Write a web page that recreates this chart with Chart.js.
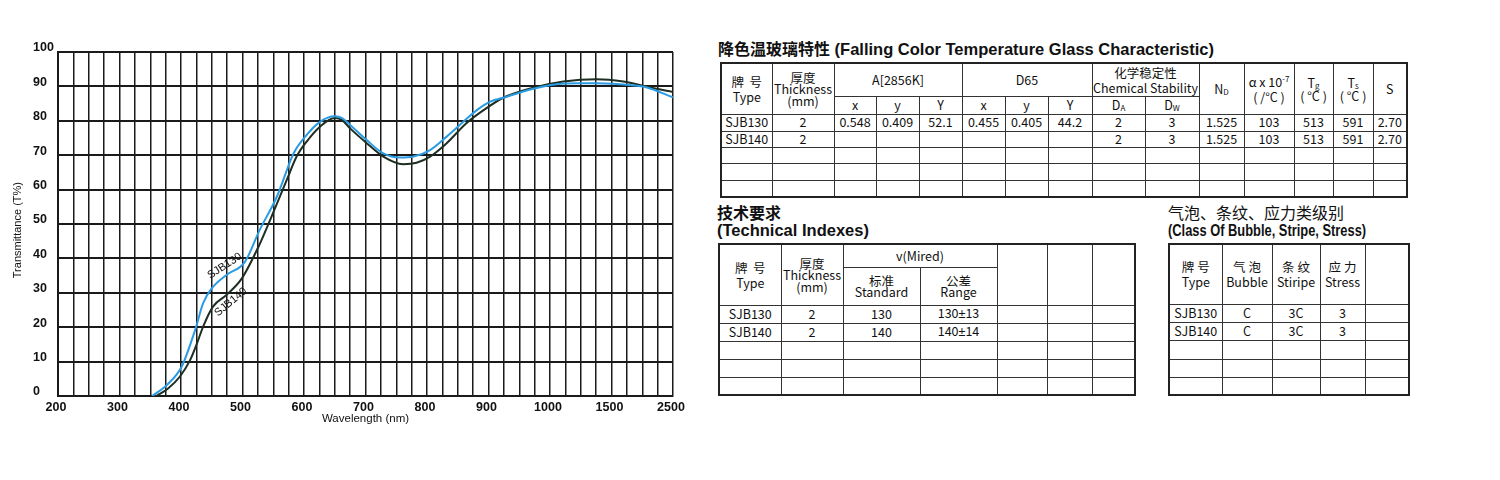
<!DOCTYPE html>
<html>
<head>
<meta charset="utf-8">
<script src="https://cdn.jsdelivr.net/npm/chart.js@4/dist/chart.umd.min.js"></script>
<style>
  html, body { margin:0; padding:0; background:#fff; }
  body { width:1500px; height:480px; position:relative; overflow:hidden; }
  #chartBox { position:absolute; left:0; top:0; width:700px; height:440px; }
  .ttl { position:absolute; font-family:"Liberation Sans", Arial, sans-serif; font-weight:bold; color:#111; white-space:nowrap; }
  .ttl .cn { font-family:"Noto Sans CJK SC", sans-serif; font-weight:bold; font-size:16px; }
  .tbl { position:absolute; border-collapse:collapse; table-layout:fixed; font-family:"Noto Sans CJK SC","Noto Sans",sans-serif; font-size:12.5px; color:#111; border:2px solid #222; }
  .tbl td { border:1px solid #333; padding:0; text-align:center; vertical-align:middle; line-height:1; overflow:hidden; white-space:nowrap; }
  .tbl .ml { line-height:11.5px; }
  .tbl .ml2 { line-height:15px; }
  .tbl .ml3 { line-height:13px; }
  .tbl sub { font-size:8px; vertical-align:-1px; line-height:0; }
  .tbl sup { font-size:8px; vertical-align:5px; line-height:0; }
  .pm { font-family:"Liberation Sans", Arial, sans-serif; }
</style>
</head>
<body>
<div id="chartBox"><canvas id="c" width="700" height="440"></canvas></div>

<div class="ttl" style="left:718px; top:39px; line-height:18px;"><span class="cn">降色温玻璃特性</span><span style="font-size:16.5px;">&nbsp;(Falling Color Temperature Glass Characteristic)</span></div>
<table class="tbl" id="t1" style="left:720px; top:62px; width:688px;">
  <colgroup><col style="width:51px"><col style="width:62px"><col style="width:42px"><col style="width:43px"><col style="width:43px"><col style="width:43px"><col style="width:43px"><col style="width:44px"><col style="width:53px"><col style="width:54px"><col style="width:45px"><col style="width:50px"><col style="width:39px"><col style="width:40px"><col style="width:34px"></colgroup>
  <tr style="height:33px">
    <td rowspan="2"><div class="ml2">牌&nbsp;&nbsp;号<br>Type</div></td>
    <td rowspan="2"><div class="ml">厚度<br>Thickness<br>(mm)</div></td>
    <td colspan="3">A[2856K]</td>
    <td colspan="3">D65</td>
    <td colspan="2"><div class="ml2">化学稳定性<br>Chemical Stability</div></td>
    <td rowspan="2">N<sub>D</sub></td>
    <td rowspan="2"><div class="ml2">α x 10<sup>-7</sup><br>( /°C )</div></td>
    <td rowspan="2"><div class="ml3">T<sub>g</sub><br>( °C )</div></td>
    <td rowspan="2"><div class="ml3">T<sub>s</sub><br>( °C )</div></td>
    <td rowspan="2">S</td>
  </tr>
  <tr style="height:18px"><td>x</td><td>y</td><td>Y</td><td>x</td><td>y</td><td>Y</td><td>D<sub>A</sub></td><td>D<sub>W</sub></td></tr>
  <tr style="height:17px"><td>SJB130</td><td>2</td><td>0.548</td><td>0.409</td><td>52.1</td><td>0.455</td><td>0.405</td><td>44.2</td><td>2</td><td>3</td><td>1.525</td><td>103</td><td>513</td><td>591</td><td>2.70</td></tr>
  <tr style="height:16px"><td>SJB140</td><td>2</td><td></td><td></td><td></td><td></td><td></td><td></td><td>2</td><td>3</td><td>1.525</td><td>103</td><td>513</td><td>591</td><td>2.70</td></tr>
  <tr style="height:16px"><td></td><td></td><td></td><td></td><td></td><td></td><td></td><td></td><td></td><td></td><td></td><td></td><td></td><td></td><td></td></tr>
  <tr style="height:17px"><td></td><td></td><td></td><td></td><td></td><td></td><td></td><td></td><td></td><td></td><td></td><td></td><td></td><td></td><td></td></tr>
  <tr style="height:17px"><td></td><td></td><td></td><td></td><td></td><td></td><td></td><td></td><td></td><td></td><td></td><td></td><td></td><td></td><td></td></tr>
</table>

<div class="ttl" style="left:717px; top:204px; line-height:17px;"><span class="cn">技术要求</span><br><span style="font-size:16.5px;">(Technical Indexes)</span></div>
<table class="tbl" id="t2" style="left:718px; top:243px; width:416px;">
  <colgroup><col style="width:62px"><col style="width:62px"><col style="width:77px"><col style="width:77px"><col style="width:50px"><col style="width:45px"><col style="width:43px"></colgroup>
  <tr style="height:23px">
    <td rowspan="2"><div class="ml2">牌&nbsp;&nbsp;号<br>Type</div></td>
    <td rowspan="2"><div class="ml">厚度<br>Thickness<br>(mm)</div></td>
    <td colspan="2">v(Mired)</td>
    <td rowspan="2"></td><td rowspan="2"></td><td rowspan="2"></td>
  </tr>
  <tr style="height:38px"><td><div class="ml">标准<br>Standard</div></td><td><div class="ml">公差<br>Range</div></td></tr>
  <tr style="height:18px"><td>SJB130</td><td>2</td><td>130</td><td>130<span class="pm">±</span>13</td><td></td><td></td><td></td></tr>
  <tr style="height:18px"><td>SJB140</td><td>2</td><td>140</td><td>140<span class="pm">±</span>14</td><td></td><td></td><td></td></tr>
  <tr style="height:18px"><td></td><td></td><td></td><td></td><td></td><td></td><td></td></tr>
  <tr style="height:18px"><td></td><td></td><td></td><td></td><td></td><td></td><td></td></tr>
  <tr style="height:18px"><td></td><td></td><td></td><td></td><td></td><td></td><td></td></tr>
</table>

<div class="ttl" style="left:1168px; top:204px; line-height:17px;"><span class="cn" style="font-weight:normal;">气泡、条纹、应力类级别</span><br><span style="font-size:16.5px; display:inline-block; transform:scaleX(0.78); transform-origin:left center;">(Class Of Bubble, Stripe, Stress)</span></div>
<table class="tbl" id="t3" style="left:1168px; top:243px; width:240px;">
  <colgroup><col style="width:53px"><col style="width:50px"><col style="width:48px"><col style="width:45px"><col style="width:44px"></colgroup>
  <tr style="height:60px">
    <td><div class="ml2">牌&nbsp;号<br>Type</div></td>
    <td><div class="ml2">气&nbsp;泡<br>Bubble</div></td>
    <td><div class="ml2">条&nbsp;纹<br>Stiripe</div></td>
    <td><div class="ml2">应&nbsp;力<br>Stress</div></td>
    <td></td>
  </tr>
  <tr style="height:18px"><td>SJB130</td><td>C</td><td>3C</td><td>3</td><td></td></tr>
  <tr style="height:18px"><td>SJB140</td><td>C</td><td>3C</td><td>3</td><td></td></tr>
  <tr style="height:19px"><td></td><td></td><td></td><td></td><td></td></tr>
  <tr style="height:18px"><td></td><td></td><td></td><td></td><td></td></tr>
  <tr style="height:18px"><td></td><td></td><td></td><td></td><td></td></tr>
</table>

<script>
// ---- data ----
const SJB130_WL = [353, 377, 401, 423, 436, 450, 474, 504, 528, 556, 583, 602, 626, 650, 662, 675, 702, 729, 756, 778, 805, 832, 859, 881, 902, 930, 968, 1054, 1244, 1380, 1800, 2075, 2500];
const SJB130_T  = [0, 3.2, 8.5, 19.2, 27, 31.3, 35.2, 39, 48.3, 58, 70.5, 75.4, 79.7, 81.3, 80.8, 78.8, 74.4, 70.5, 69.3, 69.6, 71.5, 75.4, 79.7, 83.1, 85.5, 87, 89.1, 90.6, 90.9, 90.9, 90.4, 89.7, 86.8];
const SJB140_WL = [360, 379, 398, 415, 426, 436, 452, 474, 499, 526, 545, 572, 588, 604, 626, 650, 662, 675, 702, 729, 761, 783, 805, 832, 864, 892, 924, 968, 1109, 1380, 1692, 2125, 2500];
const SJB140_T  = [0, 2.2, 5.6, 10.5, 15.3, 20.2, 26, 29.4, 34.2, 43.4, 51.2, 62.8, 69.6, 73.9, 78.3, 80.8, 80.2, 77.8, 73.5, 69.6, 67.4, 67.8, 69.6, 73.5, 79.3, 83.1, 86.7, 89.4, 91.4, 92.1, 91.4, 89.7, 88.4];
const X_TICK_LABELS = ['200','300','400','500','600','700','800','900','1000','1500','2500'];
const Y_TICKS = [0,10,20,30,40,50,60,70,80,90,100];
const CURVE_LABELS = [
  { text:'SJB130', wl:471, t:37.8, angle:-33 },
  { text:'SJB140', wl:481, t:27.3, angle:-40 }
];
// axis structure: wavelength segments and number of grid cells in each
const X_SEGMENTS = [[200, 1000, 32], [1000, 1500, 4], [1500, 2500, 4]];

// ---- custom piecewise-linear wavelength scale ----
const TOTAL_CELLS = X_SEGMENTS.reduce((s, g) => s + g[2], 0);
class PiecewiseScale extends Chart.LinearScale {
  buildTicks() {
    const ticks = [];
    X_SEGMENTS.forEach(([a, b, n], i) => {
      for (let k = (i === 0 ? 0 : 1); k <= n; k++) ticks.push({ value: a + (b - a) * k / n });
    });
    return ticks;
  }
  _frac(v) {
    let cells = 0;
    for (const [a, b, n] of X_SEGMENTS) {
      if (v <= b) return (cells + (v - a) / (b - a) * n) / TOTAL_CELLS;
      cells += n;
    }
    return 1;
  }
  getPixelForValue(v) {
    if (v === null || v === undefined) return NaN;
    return this.getPixelForDecimal(this._frac(v));
  }
  getValueForPixel(p) {
    const c = this.getDecimalForPixel(p) * TOTAL_CELLS;
    let cells = 0;
    for (const [a, b, n] of X_SEGMENTS) {
      if (c <= cells + n) return a + (c - cells) / n * (b - a);
      cells += n;
    }
    return X_SEGMENTS[X_SEGMENTS.length - 1][1];
  }
}
PiecewiseScale.id = 'piecewise';
PiecewiseScale.defaults = Chart.LinearScale.defaults;
Chart.register(PiecewiseScale);

const curveLabelPlugin = {
  id: 'curveLabels',
  afterDatasetsDraw(chart) {
    const { ctx, scales: { x, y } } = chart;
    CURVE_LABELS.forEach(l => {
      ctx.save();
      ctx.translate(x.getPixelForValue(l.wl), y.getPixelForValue(l.t));
      ctx.rotate(l.angle * Math.PI / 180);
      ctx.font = '11px "Liberation Sans", Arial, sans-serif';
      ctx.fillStyle = '#111';
      ctx.textAlign = 'center';
      ctx.textBaseline = 'middle';
      ctx.fillText(l.text, 0, 0);
      ctx.restore();
    });
  }
};

const toPts = (xs, ys) => xs.map((v, i) => ({ x: v, y: ys[i] }));
const GRID = '#1a1a1a';

new Chart(document.getElementById('c'), {
  type: 'line',
  data: {
    datasets: [
      { label: 'SJB130', data: toPts(SJB130_WL, SJB130_T), borderColor: '#2a9be3', borderWidth: 2, pointRadius: 0, cubicInterpolationMode: 'monotone', fill: false },
      { label: 'SJB140', data: toPts(SJB140_WL, SJB140_T), borderColor: '#1d2f22', borderWidth: 2, pointRadius: 0, cubicInterpolationMode: 'monotone', fill: false }
    ]
  },
  options: {
    responsive: false,
    devicePixelRatio: 1,
    animation: false,
    layout: { padding: { left: 33, top: 52, right: 27, bottom: 0 } },
    plugins: { legend: { display: false }, tooltip: { enabled: false } },
    scales: {
      x: {
        type: 'piecewise',
        min: 200, max: 2500,
        afterFit: s => { s.height = 44; },
        grid: { color: GRID, lineWidth: 1.5, drawTicks: false },
        border: { color: GRID, width: 2 },
        ticks: {
          autoSkip: false, maxRotation: 0, minRotation: 0, padding: 4, labelOffset: -2,
          color: '#111', font: { family: '"Liberation Sans", Arial, sans-serif', size: 12.5, weight: 'bold' },
          callback: (v) => {
            const s = String(Math.round(v));
            return X_TICK_LABELS.includes(s) ? s : '';
          }
        },
        title: { display: true, text: 'Wavelength (nm)', color: '#111', padding: { top: 0, bottom: 14.4 },
                 font: { family: '"Liberation Sans", Arial, sans-serif', size: 11.5 } }
      },
      y: {
        min: 0, max: 100,
        afterFit: s => { s.width = 25; },
        afterBuildTicks: s => { s.ticks = Y_TICKS.map(v => ({ value: v })); },
        grid: { color: GRID, lineWidth: 2, drawTicks: false },
        border: { color: GRID, width: 2 },
        ticks: {
          crossAlign: 'far', labelOffset: -4, padding: 0,
          color: '#111', font: { family: '"Liberation Sans", Arial, sans-serif', size: 12.5, weight: 'bold' }
        },
        title: { display: true, text: 'Transmittance (T%)    ', color: '#111', padding: { top: -21.6, bottom: 0 },
                 font: { family: '"Liberation Sans", Arial, sans-serif', size: 11 } }
      }
    }
  },
  plugins: [curveLabelPlugin]
});
</script>
</body>
</html>
